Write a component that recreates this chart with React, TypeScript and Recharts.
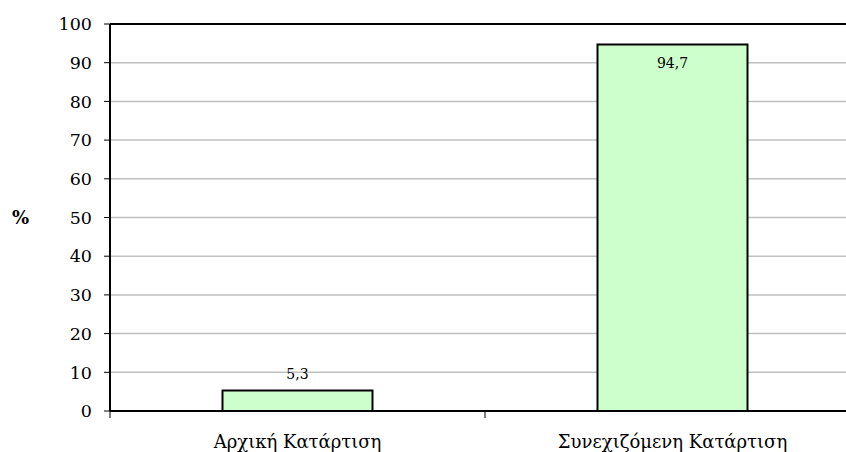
import React from 'react';
import { BarChart, Bar, XAxis, YAxis, CartesianGrid, ReferenceLine, LabelList } from 'recharts';

const categories = ['Αρχική Κατάρτιση', 'Συνεχιζόμενη Κατάρτιση'];
const percentages = [5.3, 94.7];
const yTicks = [0, 10, 20, 30, 40, 50, 60, 70, 80, 90, 100];

const data = categories.map((name, i) => ({ name, value: percentages[i] }));

const FONT = 'DejaVu Serif';

const fmt = (v: number) => String(v).replace('.', ',');

const CategoryTick = (props: any) => {
  const { x, y, payload, index, visibleTicksCount } = props;
  const half = payload && typeof payload.offset === 'number' ? payload.offset : 0;
  return (
    <g>
      {half > 0 && (
        <line x1={x - half} x2={x - half} y1={y - 24} y2={y - 17} stroke="#000" strokeWidth={1} />
      )}
      {half > 0 && index === (visibleTicksCount ?? categories.length) - 1 && (
        <line x1={x + half} x2={x + half} y1={y - 24} y2={y - 17} stroke="#000" strokeWidth={1} />
      )}
      <text x={x} y={y} dy="0.71em" textAnchor="middle" fill="#000" style={{ fontFamily: FONT, fontSize: 18 }}>
        {payload.value}
      </text>
    </g>
  );
};

const ValueLabel = (props: any) => {
  const { x, y, width, value } = props;
  const cx = x + width / 2;
  if (value < 50) {
    return (
      <text x={cx} y={y - 11} textAnchor="middle" fill="#000" style={{ fontFamily: FONT, fontSize: 14 }}>
        {fmt(value)}
      </text>
    );
  }
  return (
    <text x={cx} y={y + 14} dy="0.71em" textAnchor="middle" fill="#000" style={{ fontFamily: FONT, fontSize: 14 }}>
      {fmt(value)}
    </text>
  );
};

export default function App() {
  return (
    <div style={{ position: 'absolute', left: 0, top: 0, width: 846, height: 452, overflow: 'hidden', background: '#fff', fontFamily: FONT }}>
      <BarChart
        width={870}
        height={452}
        data={data}
        margin={{ top: 24, right: 10, left: 0, bottom: 0 }}
        barCategoryGap="30%"
        style={{ fontFamily: FONT }}
      >
        <CartesianGrid vertical={false} stroke="#c0c0c0" strokeWidth={1.5} />
        <XAxis
          dataKey="name"
          height={41}
          axisLine={{ stroke: '#000', strokeWidth: 2 }}
          tickLine={false}
          tickSize={6}
          tickMargin={18}
          tick={<CategoryTick />}
          interval={0}
        />
        <YAxis
          width={110}
          domain={[0, 100]}
          ticks={yTicks}
          interval={0}
          axisLine={{ stroke: '#000', strokeWidth: 2 }}
          tickLine={{ stroke: '#000', strokeWidth: 1 }}
          tickSize={6}
          tickMargin={12}
          tick={{ fill: '#000', fontSize: 17.5, style: { fontFamily: FONT } }}
          label={{ value: '%', position: 'insideLeft', offset: 12, fill: '#000', fontSize: 18, fontWeight: 'bold', style: { fontFamily: FONT } }}
        />
        <ReferenceLine y={100} stroke="#000" strokeWidth={2} />
        <Bar dataKey="value" fill="#CCFFCC" stroke="#000" strokeWidth={2} isAnimationActive={false}>
          <LabelList dataKey="value" content={<ValueLabel />} />
        </Bar>
      </BarChart>
    </div>
  );
}
